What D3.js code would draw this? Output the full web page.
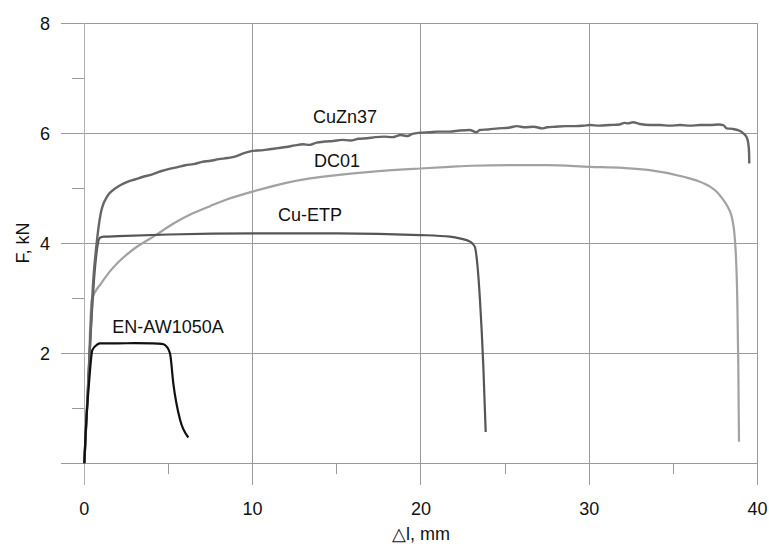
<!DOCTYPE html>
<html><head><meta charset="utf-8">
<script src="https://cdn.jsdelivr.net/npm/d3@7"></script>
<style>body{margin:0;background:#fff}svg{display:block}text{font-family:Arial,"Liberation Sans",sans-serif}</style>
</head><body><svg id="c" width="769" height="544"></svg>
<script>
// Data (Δl in mm, F in kN)
const awX = [0,0.08,0.28,0.48,0.77,0.93,2,3,4,4.6,4.8,5.09,5.29,5.69,6.18];
const awF = [0,0.55,1.46,2.06,2.16,2.18,2.18,2.185,2.18,2.17,2.15,2.0,1.45,0.79,0.47];

const etpX = [0,0.3,0.64,0.93,1.17,2,5,10.44,15,19.95,21.73,22.3,22.92,23.2,23.36,23.51,23.71,23.85];
const etpF = [0,1.9,3.57,4.1,4.12,4.13,4.16,4.18,4.18,4.15,4.12,4.09,4.03,3.94,3.6,2.97,1.76,0.57];

const znX = [0,0.3,0.55,0.7,0.85,1.0,1.15,1.3,1.47,1.8,2.16,2.6,3.0,3.5,4.0,4.54,5.0,5.5,6.0,6.5,7.0,7.5,8.0,8.5,9.0,9.5,10.0,10.5,11.0,11.5,12.0,12.5,13.0,13.4,13.8,14.3,14.8,15.3,15.8,16.3,16.8,17.3,17.8,18.3,18.8,19.2,19.5,19.95,20.5,21.0,21.7,22.3,22.9,23.3,23.5,24.0,24.6,25.2,25.7,26.2,26.7,27.2,27.5,28.0,28.6,29.2,29.7,30.05,30.6,31.2,31.8,32.1,32.3,32.6,33.0,33.6,34.2,34.8,35.4,36.0,36.6,37.2,37.7,37.97,38.17,38.5,38.8,39.16,39.35,39.45,39.5,39.51];
const znF = [0,1.9,3.4,3.9,4.3,4.58,4.73,4.82,4.9,4.99,5.06,5.12,5.16,5.21,5.25,5.31,5.35,5.38,5.42,5.44,5.48,5.5,5.53,5.55,5.58,5.64,5.68,5.69,5.71,5.73,5.75,5.78,5.80,5.79,5.83,5.85,5.86,5.88,5.87,5.90,5.91,5.93,5.94,5.93,5.97,5.95,5.99,6.01,6.02,6.03,6.03,6.05,6.06,6.02,6.06,6.07,6.09,6.10,6.13,6.11,6.12,6.09,6.11,6.12,6.13,6.13,6.14,6.15,6.14,6.15,6.16,6.19,6.18,6.20,6.17,6.15,6.15,6.14,6.15,6.14,6.15,6.15,6.16,6.15,6.09,6.08,6.06,6.0,5.93,5.82,5.65,5.45];

const dcX = [0,0.13,0.25,0.34,0.44,1,1.5,2,2.5,3,3.5,4.2,5.3,6.48,7.5,8.5,10.0,12,13.41,15,17,19.95,21.73,23,25.3,27.5,30.05,32,33.6,35.6,36.5,37.18,37.6,37.97,38.25,38.47,38.66,38.8,38.86,38.9];
const dcF = [0,0.79,1.51,2.42,2.97,3.27,3.48,3.65,3.79,3.91,4.01,4.14,4.36,4.55,4.68,4.8,4.94,5.1,5.18,5.24,5.3,5.36,5.39,5.41,5.42,5.42,5.39,5.37,5.33,5.21,5.13,5.03,4.93,4.79,4.65,4.48,4.06,2.97,1.76,0.39];

const xTicks = [0,10,20,30,40];
const xMinor = [5,15,25,35];
const yTicks = [2,4,6,8];
const yGrid = [0,2,4,6,8];
const yMinor = [1,3,5,7];

const series = [
  {name:"DC01", xs:dcX, ys:dcF, color:"#a2a2a2", w:2.2, lx:337, ly:161},
  {name:"Cu-ETP", xs:etpX, ys:etpF, color:"#555555", w:2.2, lx:310, ly:215},
  {name:"CuZn37", xs:znX, ys:znF, color:"#666666", w:2.4, lx:345, ly:117},
  {name:"EN-AW1050A", xs:awX, ys:awF, color:"#111111", w:2.2, lx:168, ly:327}
];

const svg = d3.select("#c");
const x = d3.scaleLinear().domain([0,40]).range([84.3,757.5]);
const y = d3.scaleLinear().domain([0,8]).range([463.3,23.3]);
const gridC = "#9a9a9a";
const g = svg.append("g");

g.selectAll(".hg").data(yGrid).join("line")
  .attr("x1",61).attr("x2",x(40)).attr("y1",d=>y(d)).attr("y2",d=>y(d))
  .attr("stroke",gridC).attr("stroke-width",1).attr("shape-rendering","crispEdges");
g.selectAll(".vg").data(xTicks).join("line")
  .attr("x1",d=>x(d)).attr("x2",d=>x(d)).attr("y1",y(8)).attr("y2",485)
  .attr("stroke",d=>d===0?"#b0b0b0":gridC).attr("stroke-width",1).attr("shape-rendering","crispEdges");
g.selectAll(".ym").data(yMinor).join("line")
  .attr("x1",72).attr("x2",x(0)).attr("y1",d=>y(d)).attr("y2",d=>y(d))
  .attr("stroke",gridC).attr("shape-rendering","crispEdges");
g.selectAll(".xm").data(xMinor).join("line")
  .attr("x1",d=>x(d)).attr("x2",d=>x(d)).attr("y1",y(0)).attr("y2",474)
  .attr("stroke",gridC).attr("shape-rendering","crispEdges");

g.selectAll(".yl").data(yTicks).join("text")
  .attr("x",50).attr("y",d=>y(d)).attr("dy","0.35em").attr("text-anchor","end")
  .attr("font-size",18).attr("fill","#111").text(d=>d);
g.selectAll(".xl").data(xTicks).join("text")
  .attr("x",d=>x(d)).attr("y",514.5).attr("text-anchor","middle")
  .attr("font-size",18).attr("fill","#111").text(d=>d);

svg.append("text").attr("x",421).attr("y",539.5).attr("text-anchor","middle")
  .attr("font-size",18).attr("fill","#111").text("\u25B3l, mm");
svg.append("text").attr("transform","translate(28.5,243) rotate(-90)")
  .attr("text-anchor","middle").attr("font-size",18).attr("fill","#111").text("F, kN");

const line = d3.line().x(d=>x(d[0])).y(d=>y(d[1])).curve(d3.curveMonotoneX);
series.forEach(s=>{
  const pts = s.xs.map((v,i)=>[v,s.ys[i]]);
  svg.append("path").attr("d",line(pts)).attr("fill","none")
    .attr("stroke",s.color).attr("stroke-width",s.w).attr("stroke-linejoin","round");
});
series.forEach(s=>{
  svg.append("text").attr("x",s.lx).attr("y",s.ly).attr("dy","0.35em")
    .attr("text-anchor","middle").attr("font-size",18).attr("fill","#111").text(s.name);
});
</script></body></html>
